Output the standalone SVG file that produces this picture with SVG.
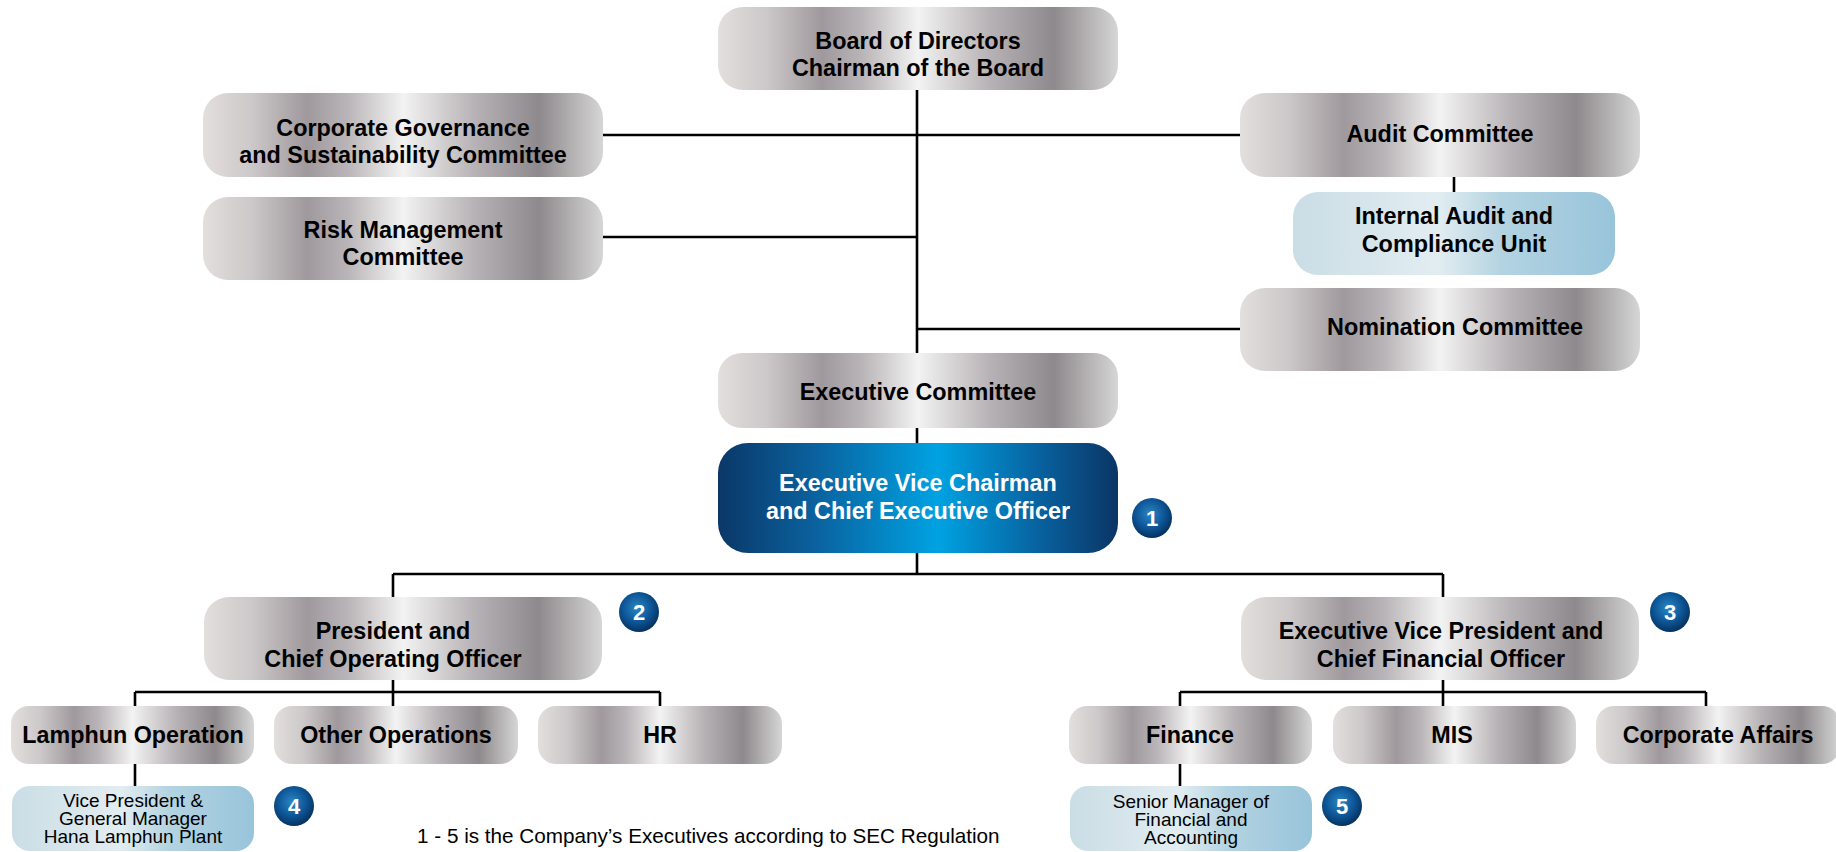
<svg xmlns="http://www.w3.org/2000/svg" width="1836" height="852" viewBox="0 0 1836 852">
<defs>
<linearGradient id="silver" x1="0" y1="0" x2="1" y2="0">
<stop offset="0" stop-color="#e3dfdd"/>
<stop offset="0.12" stop-color="#cdc8c9"/>
<stop offset="0.26" stop-color="#9f999d"/>
<stop offset="0.36" stop-color="#b9b4b7"/>
<stop offset="0.5" stop-color="#f3f3f3"/>
<stop offset="0.68" stop-color="#b7b2b5"/>
<stop offset="0.84" stop-color="#8e898c"/>
<stop offset="1" stop-color="#d6d6d6"/>
</linearGradient>
<linearGradient id="blue" x1="0" y1="0" x2="1" y2="0">
<stop offset="0" stop-color="#0b3767"/>
<stop offset="0.25" stop-color="#0a63a0"/>
<stop offset="0.55" stop-color="#00a2e2"/>
<stop offset="0.8" stop-color="#0862a0"/>
<stop offset="1" stop-color="#0b3565"/>
</linearGradient>
<linearGradient id="lblue" x1="0" y1="0" x2="1" y2="0">
<stop offset="0" stop-color="#cadde5"/>
<stop offset="0.45" stop-color="#e2edf1"/>
<stop offset="0.65" stop-color="#b3d3e1"/>
<stop offset="1" stop-color="#98c4da"/>
</linearGradient>
<radialGradient id="badge" cx="0.45" cy="0.4" r="0.6">
<stop offset="0" stop-color="#2b86c4"/>
<stop offset="0.6" stop-color="#0d5596"/>
<stop offset="1" stop-color="#06325f"/>
</radialGradient>
</defs>
<style>
.s{fill:url(#silver)}
.b{fill:url(#blue)}
.l{fill:url(#lblue)}
.t{font-family:"Liberation Sans",Arial,sans-serif;font-weight:bold;font-size:23.4px;fill:#000;text-anchor:middle}
.tb{font-size:23.3px}
.w{fill:#fff}
.r{font-family:"Liberation Sans",Arial,sans-serif;font-size:19px;fill:#000;text-anchor:middle}
.bc{fill:url(#badge)}
.bn{font-family:"Liberation Sans",Arial,sans-serif;font-weight:bold;font-size:22px;fill:#fff;text-anchor:middle}
.c{stroke:#000;stroke-width:2.6;fill:none}
</style>
<rect width="1836" height="852" fill="#fff"/>
<g id="connectors" class="c">
<path d="M917 90V353M917 428V443M917 553V574"/>
<path d="M603 135H1240M603 237H917M917 329H1240M1454 177V192"/>
<path d="M393 574H1443M393 574V597M1443 574V597"/>
<path d="M393 680V706M135 692H660M135 692V706M660 692V706M135 764V786"/>
<path d="M1443 680V706M1180 692H1706M1180 692V706M1706 692V706M1180 764V786"/>
</g>
<g id="board"><rect class="s" x="718" y="7" width="400" height="83" rx="25"/><text class="t" x="918" y="49">Board of Directors</text><text class="t" x="918" y="76">Chairman of the Board</text></g>
<g id="cgsc"><rect class="s" x="203" y="93" width="400" height="84" rx="25"/><text class="t" x="403" y="136">Corporate Governance</text><text class="t" x="403" y="163">and Sustainability Committee</text></g>
<g id="risk"><rect class="s" x="203" y="197" width="400" height="83" rx="25"/><text class="t" x="403" y="238">Risk Management</text><text class="t" x="403" y="265">Committee</text></g>
<g id="audit"><rect class="s" x="1240" y="93" width="400" height="84" rx="25"/><text class="t" x="1440" y="142">Audit Committee</text></g>
<g id="internal-audit"><rect class="l" x="1293" y="192" width="322" height="83" rx="25"/><text class="t" x="1454" y="224">Internal Audit and</text><text class="t" x="1454" y="252">Compliance Unit</text></g>
<g id="nomination"><rect class="s" x="1240" y="288" width="400" height="83" rx="25"/><text class="t" x="1455" y="335">Nomination Committee</text></g>
<g id="exec-committee"><rect class="s" x="718" y="353" width="400" height="75" rx="24"/><text class="t" x="918" y="400">Executive Committee</text></g>
<g id="ceo"><rect class="b" x="718" y="443" width="400" height="110" rx="30"/><text class="t w" x="918" y="491">Executive Vice Chairman</text><text class="t w" x="918" y="519">and Chief Executive Officer</text></g>
<g id="badge1"><circle class="bc" cx="1152" cy="518" r="20"/><text class="bn" x="1152" y="526">1</text></g>
<g id="president"><rect class="s" x="204" y="597" width="398" height="83" rx="25"/><text class="t" x="393" y="639">President and</text><text class="t" x="393" y="667">Chief Operating Officer</text></g>
<g id="badge2"><circle class="bc" cx="639" cy="612" r="20"/><text class="bn" x="639" y="620">2</text></g>
<g id="evp"><rect class="s" x="1241" y="597" width="398" height="83" rx="25"/><text class="t" x="1441" y="639">Executive Vice President and</text><text class="t" x="1441" y="667">Chief Financial Officer</text></g>
<g id="badge3"><circle class="bc" cx="1670" cy="612" r="20"/><text class="bn" x="1670" y="620">3</text></g>
<g id="lamphun"><rect class="s" x="11" y="706" width="243" height="58" rx="18"/><text class="t tb" x="133" y="743">Lamphun Operation</text></g>
<g id="other-ops"><rect class="s" x="274" y="706" width="244" height="58" rx="18"/><text class="t tb" x="396" y="743">Other Operations</text></g>
<g id="hr"><rect class="s" x="538" y="706" width="244" height="58" rx="18"/><text class="t tb" x="660" y="743">HR</text></g>
<g id="finance"><rect class="s" x="1069" y="706" width="243" height="58" rx="18"/><text class="t tb" x="1190" y="743">Finance</text></g>
<g id="mis"><rect class="s" x="1333" y="706" width="243" height="58" rx="18"/><text class="t tb" x="1452" y="743">MIS</text></g>
<g id="corp-affairs"><rect class="s" x="1596" y="706" width="244" height="58" rx="18"/><text class="t tb" x="1718" y="743">Corporate Affairs</text></g>
<g id="vp-gm"><rect class="l" x="12" y="786" width="242" height="65" rx="18"/><text class="r" x="133" y="807">Vice President &amp;</text><text class="r" x="133" y="825">General Manager</text><text class="r" x="133" y="843">Hana Lamphun Plant</text></g>
<g id="badge4"><circle class="bc" cx="294" cy="806" r="20"/><text class="bn" x="294" y="814">4</text></g>
<g id="sr-manager"><rect class="l" x="1070" y="786" width="242" height="65" rx="18"/><text class="r" x="1191" y="808">Senior Manager of</text><text class="r" x="1191" y="826">Financial and</text><text class="r" x="1191" y="844">Accounting</text></g>
<g id="badge5"><circle class="bc" cx="1342" cy="806" r="20"/><text class="bn" x="1342" y="814">5</text></g>
<text x="417" y="843" font-family="Liberation Sans, Arial, sans-serif" font-size="20.7" fill="#000">1 - 5 is the Company’s Executives according to SEC Regulation</text>
</svg>
